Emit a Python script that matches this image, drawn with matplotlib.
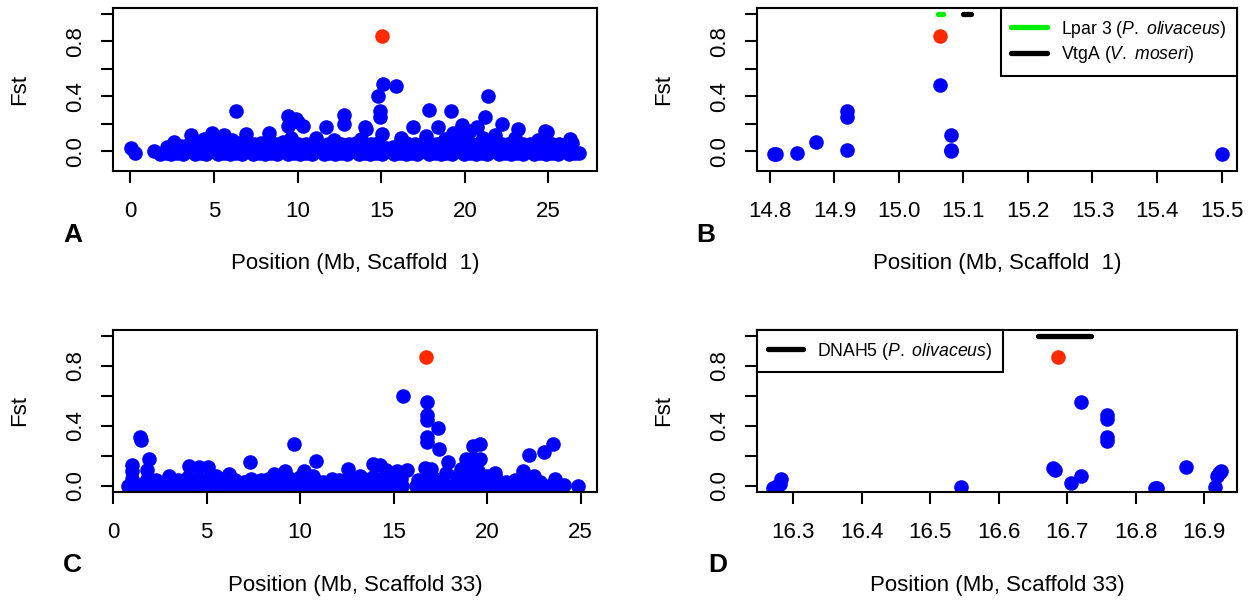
import matplotlib
matplotlib.use('Agg')
import matplotlib.pyplot as plt
from matplotlib.lines import Line2D
from matplotlib.ticker import FormatStrFormatter

plt.rcParams['font.family'] = ['Liberation Sans', 'DejaVu Sans']
plt.rcParams['mathtext.fontset'] = 'custom'
plt.rcParams['mathtext.it'] = 'Liberation Sans:italic'
plt.rcParams['mathtext.rm'] = 'Liberation Sans'

# ---- data (Mb, Fst) ----
# panel A: scaffold 1, whole scaffold (dense low band + higher SNPs)
a_low = [
    (0.02, 0.025), (0.27, -0.015),
    (1.4, 0.0), (1.75, -0.02), (2.1, -0.01), (2.45, -0.02), (2.8, -0.01), (3.15, -0.02), (3.5, 0.0),
    (3.85, -0.02), (4.2, -0.01), (4.55, -0.02), (4.9, 0.0), (5.25, -0.02), (5.6, -0.01), (5.95, -0.02),
    (6.3, -0.01), (6.65, -0.02), (7.0, 0.0), (7.35, -0.02), (7.7, -0.01), (8.05, -0.02), (8.4, -0.01),
    (8.75, -0.02), (9.1, 0.0), (9.45, -0.02), (9.8, -0.01), (10.15, -0.02), (10.5, -0.01), (10.85, -0.02),
    (11.2, 0.0), (11.55, -0.02), (11.9, -0.01), (12.25, -0.02), (12.6, -0.01), (12.95, -0.02), (13.3, 0.0),
    (13.65, -0.02), (14.0, -0.01), (14.35, -0.02), (14.7, -0.01), (15.05, -0.02), (15.4, 0.0),
    (15.75, -0.02), (16.1, -0.01), (16.45, -0.02), (16.8, -0.01), (17.15, -0.02), (17.5, 0.0),
    (17.85, -0.02), (18.2, -0.01), (18.55, -0.02), (18.9, -0.01), (19.25, -0.02), (19.6, 0.0),
    (19.95, -0.02), (20.3, -0.01), (20.65, -0.02), (21.0, -0.01), (21.35, -0.02), (21.7, 0.0),
    (22.05, -0.02), (22.4, -0.01), (22.75, -0.02), (23.1, -0.01), (23.45, -0.02), (23.8, 0.0),
    (24.15, -0.02), (24.5, -0.01), (24.85, -0.02), (25.2, -0.01), (25.55, -0.02), (25.9, 0.0),
    (26.25, -0.02), (26.6, -0.01), (26.85, -0.01),
    (2.2, 0.03), (2.6, 0.07), (3.0, 0.04), (3.5, 0.05), (3.9, 0.06), (4.3, 0.05), (4.7, 0.07),
    (5.2, 0.05), (5.6, 0.06), (6.0, 0.05), (6.5, 0.06), (6.9, 0.05), (7.4, 0.05), (7.8, 0.06),
    (8.2, 0.05), (8.7, 0.05), (9.1, 0.07), (9.6, 0.06), (10.0, 0.05), (10.5, 0.05), (10.9, 0.06),
    (11.3, 0.05), (11.8, 0.05), (12.2, 0.06), (12.6, 0.05), (13.1, 0.05), (13.5, 0.06), (14.0, 0.05),
    (14.4, 0.05), (14.8, 0.06), (15.3, 0.02), (15.7, 0.03), (16.1, 0.05), (16.5, 0.06), (17.0, 0.05),
    (17.4, 0.05), (17.8, 0.06), (18.3, 0.05), (18.7, 0.07), (19.1, 0.05), (19.6, 0.06), (20.0, 0.07),
    (20.4, 0.05), (20.9, 0.06), (21.3, 0.05), (21.7, 0.06), (22.2, 0.05), (22.6, 0.05), (23.0, 0.06),
    (23.5, 0.05), (23.9, 0.05), (24.3, 0.06), (24.8, 0.05), (25.2, 0.05), (25.6, 0.05), (26.0, 0.03),
    (26.4, 0.06),
]
a_high = [
    (3.6, 0.12), (4.4, 0.09), (4.9, 0.13), (5.6, 0.12), (6.1, 0.08), (6.93, 0.123), (8.28, 0.135),
    (9.6, 0.10), (10.0, 0.21), (10.32, 0.185), (11.1, 0.098), (11.72, 0.177), (12.2, 0.08),
    (12.75, 0.197), (13.8, 0.09), (14.01, 0.177), (15.07, 0.123), (16.2, 0.10), (16.9, 0.177),
    (17.7, 0.11), (18.4, 0.177), (18.8, 0.09), (19.3, 0.13), (19.8, 0.19), (20.0, 0.12), (20.3, 0.15),
    (20.7, 0.18), (21.1, 0.10), (21.8, 0.12), (23.0, 0.10), (24.4, 0.08), (24.9, 0.14), (26.3, 0.086),
    (6.33, 0.296), (9.42, 0.259), (9.92, 0.234), (9.42, 0.185), (12.75, 0.266), (14.1, 0.16),
    (14.8, 0.40), (14.91, 0.296), (14.91, 0.246), (15.08, 0.49), (15.91, 0.475),
    (17.86, 0.30), (19.2, 0.29), (21.36, 0.40), (21.2, 0.246), (22.2, 0.20), (23.2, 0.165),
    (24.8, 0.148),
]
a_top = (15.06, 0.843)

# panel B: scaffold 1, zoom around the peak
b_pos = [14.806, 14.81, 14.842, 14.872, 14.92, 14.92, 14.92, 15.064, 15.08, 15.08, 15.08, 15.5]
b_fst = [-0.017, -0.017, -0.012, 0.069, 0.29, 0.25, 0.012, 0.485, 0.118, 0.0, 0.008, -0.017]
b_top = (15.064, 0.843)
b_genes = [('Lpar 3', 'P.', 'olivaceus', 15.060, 15.068, '#00ee00'),
           ('VtgA', 'V.', 'moseri', 15.100, 15.111, 'black')]

# panel C: scaffold 33, whole scaffold
c_low = [
    (0.8, 0.0), (1.15, 0.0), (1.5, 0.01), (1.85, 0.0), (2.2, 0.0), (2.55, 0.01), (2.9, 0.0), (3.25, 0.0),
    (3.6, 0.01), (3.95, 0.0), (4.3, 0.0), (4.65, 0.01), (5.0, 0.0), (5.35, 0.0), (5.7, 0.01), (6.05, 0.0),
    (6.4, 0.0), (6.75, 0.01), (7.1, 0.0), (7.45, 0.0), (7.8, 0.01), (8.15, 0.0), (8.5, 0.0), (8.85, 0.01),
    (9.2, 0.0), (9.55, 0.0), (9.9, 0.01), (10.25, 0.0), (10.6, 0.0), (10.95, 0.01), (11.3, 0.0),
    (11.65, 0.0), (12.0, 0.01), (12.35, 0.0), (12.7, 0.0), (13.05, 0.01), (13.4, 0.0), (13.75, 0.0),
    (14.1, 0.01), (14.45, 0.0), (14.8, 0.0), (15.15, 0.01), (15.45, 0.0), (16.2, 0.0), (16.55, 0.01),
    (16.9, 0.0), (17.25, 0.0), (17.6, 0.01), (17.9, 0.0), (18.4, 0.0), (18.75, 0.01), (19.1, 0.0),
    (19.45, 0.0), (19.8, 0.01), (20.15, 0.0), (20.5, 0.0), (20.85, 0.01), (21.2, 0.0), (21.55, 0.0),
    (21.9, 0.01), (22.25, 0.0), (22.6, 0.0), (22.95, 0.01), (23.3, 0.0), (23.7, 0.0), (24.1, 0.01),
    (24.86, 0.0),
    (1.0, 0.05), (1.8, 0.05), (2.3, 0.04), (2.7, 0.03), (3.1, 0.05), (3.5, 0.04), (4.0, 0.06),
    (4.4, 0.05), (4.8, 0.04), (5.3, 0.05), (5.7, 0.03), (6.1, 0.06), (6.5, 0.04), (7.0, 0.03),
    (7.4, 0.05), (7.9, 0.04), (8.3, 0.05), (8.7, 0.06), (9.1, 0.04), (9.5, 0.05), (10.0, 0.06),
    (10.4, 0.05), (10.8, 0.04), (11.2, 0.03), (11.7, 0.05), (12.1, 0.04), (12.6, 0.06), (13.0, 0.04),
    (13.4, 0.05), (13.9, 0.06), (14.3, 0.05), (14.7, 0.06), (15.1, 0.04), (15.4, 0.05), (16.3, 0.04),
    (16.8, 0.06), (17.2, 0.05), (17.6, 0.04), (18.5, 0.05), (18.9, 0.06), (19.3, 0.05), (19.7, 0.04),
    (20.1, 0.06), (20.5, 0.04), (21.0, 0.03), (21.5, 0.04), (21.9, 0.05), (22.4, 0.04), (22.8, 0.03),
    (23.6, 0.05),
]
c_high = [
    (1.0, 0.10), (1.0, 0.14), (1.8, 0.11), (1.9, 0.18), (3.0, 0.07), (4.07, 0.135), (4.6, 0.13),
    (5.06, 0.13), (5.5, 0.07), (6.2, 0.08), (8.6, 0.08), (9.2, 0.10), (10.2, 0.10), (10.7, 0.07),
    (12.57, 0.113), (13.2, 0.07), (13.9, 0.15), (14.26, 0.14), (14.6, 0.11), (15.2, 0.10), (15.7, 0.11),
    (16.7, 0.12), (17.0, 0.113), (17.8, 0.09), (18.4, 0.07), (18.6, 0.113), (19.0, 0.13), (19.5, 0.10),
    (20.0, 0.07), (20.4, 0.09), (21.9, 0.10), (22.5, 0.07),
    (1.45, 0.33), (1.52, 0.31), (7.34, 0.162), (9.66, 0.28), (10.85, 0.169), (15.51, 0.597),
    (16.76, 0.563), (16.76, 0.473), (16.76, 0.44), (17.38, 0.39), (16.76, 0.326), (16.76, 0.293),
    (17.4, 0.248), (17.92, 0.16), (19.26, 0.27), (19.6, 0.28), (19.6, 0.18), (19.26, 0.18),
    (18.85, 0.18), (22.24, 0.21), (23.06, 0.229), (23.5, 0.277),
]
c_top = (16.72, 0.86)

# panel D: scaffold 33, zoom around the peak
d_pos = [16.271, 16.276, 16.28, 16.282, 16.545, 16.68, 16.682, 16.705, 16.72, 16.72, 16.758,
         16.758, 16.758, 16.758, 16.828, 16.831, 16.873, 16.916, 16.919, 16.922, 16.925]
d_fst = [-0.011, 0.0, 0.015, 0.045, -0.005, 0.12, 0.106, 0.018, 0.068, 0.563, 0.473,
         0.444, 0.326, 0.30, -0.011, -0.011, 0.124, -0.005, 0.068, 0.085, 0.101]
d_top = (16.686, 0.863)
d_genes = [('DNAH5', 'P.', 'olivaceus', 16.657, 16.735, 'black')]

BLUE = '#0000ff'
RED = '#ff2a00'
W, H = 1254, 603
MS = 10.5


def panel(box, xs, ys, top, xlim, ylim, xticks, fmt, scaffold, letter, letter_x, letter_y):
    l, t, r, b = box
    ax = fig.add_axes([l / W, 1 - b / H, (r - l) / W, (b - t) / H])
    ax.plot(xs, ys, 'o', color=BLUE, ms=MS, mec='none')
    ax.plot([top[0]], [top[1]], 'o', color=RED, ms=MS, mec='none')
    ax.set_xlim(xlim)
    ax.set_ylim(ylim)
    ax.set_xticks(xticks)
    ax.xaxis.set_major_formatter(FormatStrFormatter(fmt))
    ax.set_yticks([0, 0.2, 0.4, 0.6, 0.8, 1.0])
    ax.set_yticklabels(['0.0', '', '0.4', '', '0.8', ''])
    for s in ax.spines.values():
        s.set_linewidth(1.5)
    ax.tick_params(axis='both', direction='out', length=8.5, width=1.5, labelsize=16)
    ax.tick_params(axis='x', pad=13)
    ax.tick_params(axis='y', pad=11, labelrotation=90)
    for lab in ax.get_yticklabels():
        lab.set_va('center')
    fig.text((l - 93) / W, 1 - (t + b) / 2 / H, 'Fst', rotation=90, fontsize=16,
             ha='center', va='center')
    fig.text((l + r) / 2 / W, 1 - (b + 93) / H, 'Position (Mb, Scaffold %s)' % scaffold,
             fontsize=16, ha='center', va='center')
    fig.text(letter_x / W, 1 - letter_y / H, letter, fontsize=19, fontweight='bold',
             ha='center', va='center')
    return ax


def add_genes(ax, genes, loc):
    handles = []
    for name, genus, species, start, end, col in genes:
        ax.plot([start, end], [1.0, 1.0], color=col, lw=3.8, solid_capstyle='round')
        label = r'%s ($\mathit{%s}$ $\mathit{%s}$)' % (name, genus, species)
        handles.append(Line2D([], [], color=col, lw=3.8, solid_capstyle='round', label=label))
    leg = ax.legend(handles=handles, loc=loc, borderaxespad=0, fontsize=12.7,
                    fancybox=False, framealpha=1, edgecolor='black',
                    handlelength=2.0, handletextpad=0.8, borderpad=0.6, labelspacing=0.25)
    leg.get_frame().set_linewidth(1.5)


fig = plt.figure(figsize=(W / 100, H / 100), dpi=100)

a_all = a_low + a_high
c_all = c_low + c_high

ax_a = panel((113, 8, 597, 171), [p[0] for p in a_all], [p[1] for p in a_all], a_top,
             (-1.04, 27.9), (-0.144, 1.044), [0, 5, 10, 15, 20, 25], '%d', ' 1', 'A', 73, 235)
ax_b = panel((757, 8, 1237, 171), b_pos, b_fst, b_top,
             (14.78, 15.524), (-0.144, 1.044),
             [14.8, 14.9, 15.0, 15.1, 15.2, 15.3, 15.4, 15.5], '%.1f', ' 1', 'B', 706, 235)
add_genes(ax_b, b_genes, 'upper right')
ax_c = panel((113, 330, 597, 492), [p[0] for p in c_all], [p[1] for p in c_all], c_top,
             (0.0, 25.87), (-0.04, 1.04), [0, 5, 10, 15, 20, 25], '%d', '33', 'C', 72, 565)
ax_d = panel((757, 330, 1237, 492), d_pos, d_fst, d_top,
             (16.247, 16.948), (-0.04, 1.04),
             [16.3, 16.4, 16.5, 16.6, 16.7, 16.8, 16.9], '%.1f', '33', 'D', 718, 565)
add_genes(ax_d, d_genes, 'upper left')

fig.savefig('out.png', dpi=100)
